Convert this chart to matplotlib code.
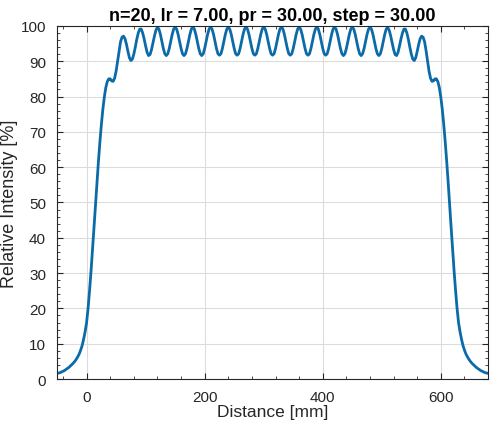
import numpy as np
import matplotlib
matplotlib.use('Agg')
import matplotlib.pyplot as plt
from matplotlib.ticker import MultipleLocator

plt.rcParams['font.family'] = ['Liberation Sans', 'DejaVu Sans']

TITLE = 'n=20, lr = 7.00, pr = 30.00, step = 30.00'

# distance samples [mm], one every 2.5 mm
distance = np.arange(-50.0, 680.0 + 1.25, 2.5)

# relative intensity [%]
intensity = np.array([
    # -50 .. 117.5 (left flank)
    1.6, 1.7, 1.8, 2.0, 2.2, 2.4, 2.7, 3.0, 3.3, 3.7,
    4.1, 4.5, 5.0, 5.6, 6.3, 7.1, 8.2, 9.5, 11.3, 13.4,
    16.0, 20.0, 25.0, 30.5, 36.5, 42.8, 49.0, 55.5, 61.5, 67.0,
    72.0, 76.3, 79.8, 82.5, 84.2, 85.0, 85.0, 84.4, 84.3, 85.2,
    87.2, 90.0, 93.0, 95.5, 96.8, 97.1, 96.4, 94.8, 92.8, 91.0,
    90.2, 90.6, 92.0, 94.0, 96.2, 98.0, 99.1, 99.1, 98.0, 96.3,
    94.3, 92.5, 91.6, 91.9, 93.3, 95.2, 97.2, 98.8,
    # 120 .. 510 (plateau)
    99.6, 99.1, 97.6, 95.6, 93.6, 92.1, 91.6, 92.1, 93.6, 95.6, 97.6, 99.1,
    99.6, 99.1, 97.6, 95.6, 93.6, 92.1, 91.6, 92.1, 93.6, 95.6, 97.6, 99.1,
    99.7, 99.1, 97.6, 95.6, 93.6, 92.1, 91.6, 92.1, 93.6, 95.6, 97.6, 99.1,
    99.7, 99.1, 97.6, 95.6, 93.6, 92.1, 91.7, 92.1, 93.6, 95.6, 97.6, 99.1,
    99.7, 99.1, 97.6, 95.6, 93.6, 92.1, 91.7, 92.1, 93.6, 95.6, 97.6, 99.1,
    99.7, 99.1, 97.6, 95.6, 93.6, 92.1, 91.7, 92.1, 93.6, 95.6, 97.6, 99.1,
    99.7, 99.1, 97.6, 95.6, 93.6, 92.1, 91.7, 92.1, 93.6, 95.6, 97.6, 99.1,
    99.7, 99.1, 97.6, 95.6, 93.6, 92.1, 91.7, 92.1, 93.6, 95.6, 97.6, 99.1,
    99.7, 99.1, 97.6, 95.6, 93.6, 92.1, 91.7, 92.1, 93.6, 95.6, 97.6, 99.1,
    99.7, 99.1, 97.6, 95.6, 93.6, 92.1, 91.7, 92.1, 93.6, 95.6, 97.6, 99.1,
    99.7, 99.1, 97.6, 95.6, 93.6, 92.1, 91.6, 92.1, 93.6, 95.6, 97.6, 99.1,
    99.6, 99.1, 97.6, 95.6, 93.6, 92.1, 91.6, 92.1, 93.6, 95.6, 97.6, 99.1,
    99.6, 99.1, 97.6, 95.6, 93.6, 92.1, 91.6, 92.1, 93.6, 95.6, 97.6, 99.1,
    99.6,
    # 512.5 .. 680 (right flank)
    98.8, 97.2, 95.2, 93.3, 91.9, 91.6, 92.5, 94.3,
    96.3, 98.0, 99.1, 99.1, 98.0, 96.2, 94.0, 92.0, 90.6, 90.2,
    91.0, 92.8, 94.8, 96.4, 97.1, 96.8, 95.5, 93.0, 90.0, 87.2,
    85.2, 84.3, 84.4, 85.0, 85.0, 84.2, 82.5, 79.8, 76.3, 72.0,
    67.0, 61.5, 55.5, 49.0, 42.8, 36.5, 30.5, 25.0, 20.0, 16.0,
    13.4, 11.3, 9.5, 8.2, 7.1, 6.3, 5.6, 5.0, 4.5, 4.1,
    3.7, 3.3, 3.0, 2.7, 2.4, 2.2, 2.0, 1.8, 1.7, 1.6,
])

x_ticks = [0, 200, 400, 600]
y_ticks = [0, 10, 20, 30, 40, 50, 60, 70, 80, 90, 100]

fig = plt.figure(figsize=(4.92, 4.27), dpi=100)
ax = fig.add_axes([0.116, 0.110, 0.876, 0.827])

ax.plot(distance, intensity, color='#0b6aa8', linewidth=2.0)

ax.set_xlim(-50, 680)
ax.set_ylim(0, 100)
ax.set_xticks(x_ticks)
ax.set_yticks(y_ticks)
ax.xaxis.set_minor_locator(MultipleLocator(40))
ax.yaxis.set_minor_locator(MultipleLocator(2))

ax.grid(True, which='major', color='#dcdcdc', linewidth=0.8)
ax.set_axisbelow(True)
for sp in ax.spines.values():
    sp.set_color('#262626')
    sp.set_linewidth(0.8)

ax.tick_params(which='both', direction='in', top=True, right=True,
               colors='#262626', labelcolor='#262626', labelsize=11)
ax.tick_params(which='major', length=4, width=0.8)
ax.tick_params(which='minor', length=2, width=0.6)
ax.tick_params(axis='y', pad=8)
ax.tick_params(axis='x', pad=8)

ax.set_title(TITLE, fontsize=13, fontweight='bold', color='#000000', pad=4)
ax.set_xlabel('Distance [mm]', fontsize=12.5, color='#262626', labelpad=0)
ax.set_ylabel('Relative Intensity [%]', fontsize=13, color='#262626', labelpad=2)

fig.savefig('out.png', dpi=100)
